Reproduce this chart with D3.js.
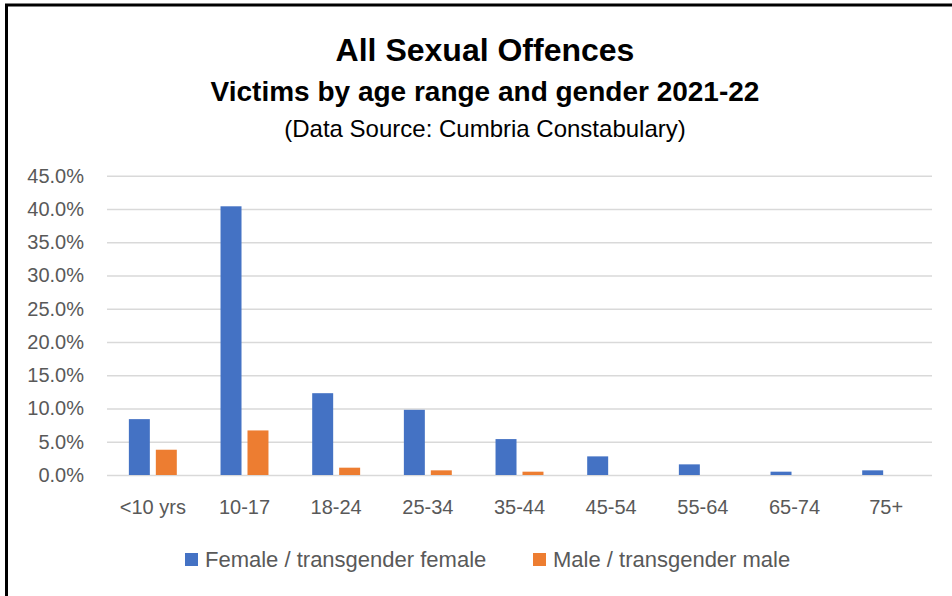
<!DOCTYPE html>
<html>
<head>
<meta charset="utf-8">
<script src="https://cdn.jsdelivr.net/npm/d3@7"></script>
<style>
  body { margin: 0; background: #fff; }
  svg { display: block; font-family: "Liberation Sans", Arial, sans-serif; }
</style>
</head>
<body>
<svg id="chart" width="952" height="596"></svg>
<script>
// age bands on the x axis
var categories = ["<10 yrs", "10-17", "18-24", "25-34", "35-44", "45-54", "55-64", "65-74", "75+"];
// share of victims
var femaleValues = [0.084, 0.404, 0.123, 0.098, 0.054, 0.028, 0.016, 0.005, 0.007];
var maleValues = [0.038, 0.067, 0.011, 0.007, 0.005, 0, 0, 0, 0];
var seriesNames = ["Female / transgender female", "Male / transgender male"];
var seriesColors = ["#4472C4", "#ED7D31"];
var yTicks = [0, 0.05, 0.10, 0.15, 0.20, 0.25, 0.30, 0.35, 0.40, 0.45];

(function () {
    var svg = d3.select('#chart');
    var plotLeft = 107, plotRight = 932, plotTop = 175.7, plotBottom = 475;
    var font = '"Liberation Sans", Arial, sans-serif';

    // frame (left and top edges show in the picture)
    svg.append('path')
        .attr('d', 'M6.5,596 L6.5,5 L952,5')
        .attr('fill', 'none')
        .attr('stroke', '#000')
        .attr('stroke-width', 3);

    // titles
    svg.append('text')
        .attr('x', 485).attr('y', 61)
        .attr('text-anchor', 'middle')
        .attr('font-size', 32).attr('font-weight', 'bold')
        .attr('fill', '#000')
        .text('All Sexual Offences');
    svg.append('text')
        .attr('x', 485).attr('y', 101)
        .attr('text-anchor', 'middle')
        .attr('font-size', 28).attr('font-weight', 'bold')
        .attr('fill', '#000')
        .text('Victims by age range and gender 2021-22');
    svg.append('text')
        .attr('x', 485).attr('y', 137)
        .attr('text-anchor', 'middle')
        .attr('font-size', 24)
        .attr('fill', '#000')
        .text('(Data Source: Cumbria Constabulary)');

    var y = d3.scaleLinear().domain([0, 0.45]).range([plotBottom, plotTop]);
    var x0 = d3.scaleBand().domain(categories).range([plotLeft, plotRight])
        .paddingInner(0.477).paddingOuter(0.2385);
    var x1 = d3.scaleBand().domain(seriesNames).range([0, x0.bandwidth()])
        .paddingInner(0.222);

    // gridlines + y labels
    var yAxis = d3.axisLeft(y)
        .tickValues(yTicks)
        .tickFormat(d3.format('.1%'))
        .tickSize(-(plotRight - plotLeft))
        .tickPadding(23);
    var gy = svg.append('g')
        .attr('transform', 'translate(' + plotLeft + ',0)')
        .call(yAxis);
    gy.select('.domain').remove();
    gy.selectAll('line').attr('stroke', '#D9D9D9').attr('stroke-width', 1.5);
    gy.selectAll('text')
        .attr('font-size', 20)
        .attr('fill', '#595959')
        .attr('font-family', font);

    // bars
    var rows = categories.map(function (c, i) {
        return { cat: c, values: [femaleValues[i], maleValues[i]] };
    });
    var groups = svg.append('g').selectAll('g')
        .data(rows)
        .enter().append('g')
        .attr('transform', function (d) { return 'translate(' + x0(d.cat) + ',0)'; });
    groups.selectAll('rect')
        .data(function (d) {
            return d.values.map(function (v, j) { return { name: seriesNames[j], value: v, color: seriesColors[j] }; });
        })
        .enter().append('rect')
        .attr('x', function (d) { return x1(d.name); })
        .attr('width', x1.bandwidth())
        .attr('y', function (d) { return y(d.value); })
        .attr('height', function (d) { return plotBottom - y(d.value); })
        .attr('fill', function (d) { return d.color; });

    // x labels
    var xAxis = d3.axisBottom(x0).tickSize(0).tickPadding(25);
    var gx = svg.append('g')
        .attr('transform', 'translate(0,' + plotBottom + ')')
        .call(xAxis);
    gx.select('.domain').remove();
    gx.selectAll('text')
        .attr('font-size', 20)
        .attr('fill', '#595959')
        .attr('font-family', font);

    // legend
    var legendX = [185, 533];
    var legend = svg.append('g').selectAll('g')
        .data(seriesNames)
        .enter().append('g')
        .attr('transform', function (d, i) { return 'translate(' + legendX[i] + ',553)'; });
    legend.append('rect')
        .attr('width', 13).attr('height', 13)
        .attr('fill', function (d, i) { return seriesColors[i]; });
    legend.append('text')
        .attr('x', 20).attr('y', 13.5)
        .attr('font-size', 22)
        .attr('fill', '#595959')
        .text(function (d) { return d; });
})();
</script>
</body>
</html>
